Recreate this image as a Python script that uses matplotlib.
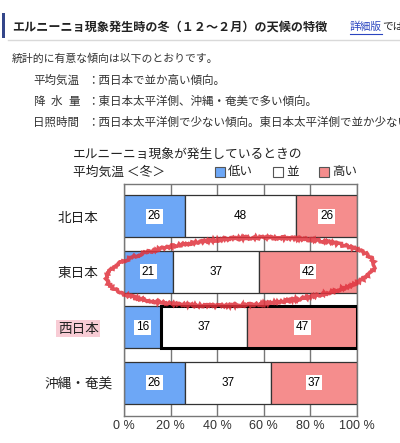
import matplotlib
matplotlib.use("Agg")
import matplotlib.pyplot as plt
from matplotlib.patches import Rectangle, Ellipse
from matplotlib.lines import Line2D
from matplotlib.transforms import ScaledTranslation
import numpy as np

plt.rcParams['font.family'] = ['Noto Sans CJK JP', 'DejaVu Sans']

# data
regions = ['北日本', '東日本', '西日本', '沖縄・奄美']
low = [26, 21, 16, 26]
normal = [48, 37, 37, 37]
high = [26, 42, 47, 37]
legend_labels = ['低い', '並', '高い']
xticks = [0, 20, 40, 60, 80, 100]

header = 'エルニーニョ現象発生時の冬（１２～２月）の天候の特徴'
intro = '統計的に有意な傾向は以下のとおりです。'
items = [('平均気温', '：西日本で並か高い傾向。'),
         ('降水量', '：東日本太平洋側、沖縄・奄美で多い傾向。'),
         ('日照時間', '：西日本太平洋側で少ない傾向。東日本太平洋側で並か少ない傾向。')]
chart_title = ['エルニーニョ現象が発生しているときの', '平均気温 ＜冬＞']

blue = '#6da7f6'
red = '#f58d8d'
W, H = 400, 443


def fx(px):
    return px / W


def fy(py):
    return 1 - py / H


fig = plt.figure(figsize=(4, 4.43), dpi=100)
fig.patch.set_facecolor('white')

# header block
fig.add_artist(Rectangle((fx(2), fy(38)), 3 / W, 25 / H, transform=fig.transFigure,
                         fc='#34468a', ec='none'))
fig.add_artist(Line2D([fx(8), 1], [fy(39.5)] * 2, transform=fig.transFigure,
                      color='#d9d9d9', lw=1))
fig.text(fx(12), fy(27), header, fontsize=8.7, fontweight='bold', va='center', color='#222')
fig.text(fx(350), fy(27), '詳細版', fontsize=7.7, va='center', color='#2a45c0')
fig.add_artist(Line2D([fx(350), fx(382)], [fy(34)] * 2, transform=fig.transFigure,
                      color='#2a45c0', lw=0.8))
fig.text(fx(382), fy(27), 'では', fontsize=7.7, va='center', color='#222')

fig.text(fx(12), fy(59), intro, fontsize=7.8, va='center', color='#333')
for i, (lab, txt) in enumerate(items):
    yy = fy(80 + 21 * i)
    if lab == '降水量':
        for ch, cx in zip(lab, [38.5, 56, 74.5]):
            fig.text(fx(cx), yy, ch, fontsize=8.3, va='center', ha='center', color='#333')
    else:
        fig.text(fx(33), yy, lab, fontsize=8.3, va='center', color='#333')
    fig.text(fx(87), yy, txt, fontsize=8.3, va='center', color='#333')

# chart title
fig.text(fx(73), fy(154), chart_title[0], fontsize=9.2, va='center', color='#222')
fig.text(fx(73), fy(172), chart_title[1], fontsize=9.2, va='center', color='#222')

# legend
for lab, col, x0 in zip(legend_labels, [blue, 'white', red], [215, 273, 319]):
    fig.add_artist(Rectangle((fx(x0), fy(177)), 10 / W, 10 / H, transform=fig.transFigure,
                             fc=col, ec='#555', lw=0.8))
    fig.text(fx(x0 + 13), fy(172), lab, fontsize=9, va='center', color='#222')

# bars
ax = fig.add_axes([124 / W, 1 - 416 / H, 233 / W, 232 / H])
y = np.arange(len(regions))
left2 = np.array(low)
left3 = np.array(low) + np.array(normal)
h = 0.75
ax.barh(y, low, height=h, color=blue, edgecolor='#333', lw=0.9, zorder=2)
ax.barh(y, normal, left=left2, height=h, color='white', edgecolor='#333', lw=0.9, zorder=2)
ax.barh(y, high, left=left3, height=h, color=red, edgecolor='#333', lw=0.9, zorder=2)

# emphasised 西日本 border around 並 + 高い
wi = regions.index('西日本')
ax.barh(wi, 100 - low[wi], left=low[wi], height=h, fill=False, edgecolor='black', lw=2.2, zorder=3)

box = dict(facecolor='white', edgecolor='none', pad=1.2)
for i in range(len(regions)):
    ax.text(low[i] / 2, i, str(low[i]), ha='center', va='center', fontsize=8.5,
            family='Liberation Sans', bbox=box, zorder=4)
    ax.text(left2[i] + normal[i] / 2, i, str(normal[i]), ha='center', va='center', fontsize=8.5,
            family='Liberation Sans', zorder=4)
    ax.text(left3[i] + high[i] / 2, i, str(high[i]), ha='center', va='center', fontsize=8.5,
            family='Liberation Sans', bbox=box, zorder=4)

ax.set_xlim(0, 100)
ax.set_ylim(3.6, -0.58)
ax.set_xticks(xticks, labels=[f'{t} %' for t in xticks])
ax.set_yticks(y, labels=regions)
for lbl in ax.get_xticklabels():
    lbl.set_fontfamily('Liberation Sans')
    lbl.set_fontsize(9)
    lbl.set_color('#333')
for lbl in ax.get_yticklabels():
    lbl.set_ha('center')
    lbl.set_fontsize(9.8)
    lbl.set_color('#222')
ax.get_yticklabels()[wi].set_bbox(dict(facecolor='#f8ccd5', edgecolor='none', pad=1))
ax.tick_params(axis='y', length=0, pad=33)
ax.tick_params(axis='x', length=0, pad=3)
ax.grid(axis='x', color='#777', lw=1)
ax.set_axisbelow(True)
for s in ax.spines.values():
    s.set_color('#777')
    s.set_linewidth(1)

# hand-drawn red circle around 東日本
ei = regions.index('東日本')
ell = Ellipse((0, 0), 2.68, 0.67, angle=3, fill=False, ec='#e0333d', lw=2.6, alpha=0.85,
              transform=fig.dpi_scale_trans + ScaledTranslation(50, ei, ax.transData), zorder=10)
ell.set_sketch_params(scale=1.2, length=3, randomness=3)
fig.add_artist(ell)

fig.savefig('out.png', dpi=100)
